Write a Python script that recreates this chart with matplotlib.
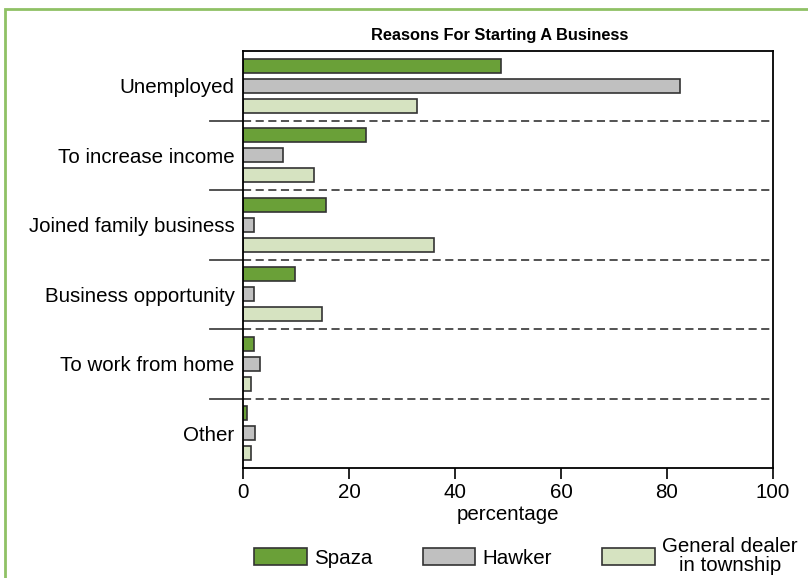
import numpy as np
import matplotlib
matplotlib.use("Agg")
import matplotlib.pyplot as plt
from matplotlib.patches import Rectangle

plt.rcParams['font.family'] = ['Liberation Sans', 'DejaVu Sans']

categories = ["Unemployed", "To increase income", "Joined family business",
              "Business opportunity", "To work from home", "Other"]
spaza = [48.6, 23.2, 15.7, 9.9, 2.1, 0.8]
hawker = [82.5, 7.6, 2.1, 2.1, 3.3, 2.3]
general = [32.8, 13.4, 36.0, 14.9, 1.6, 1.6]
series = ["Spaza", "Hawker", "General dealer\nin township"]
colors = ["#6aa038", "#c0c0c0", "#d6e3c1"]

fig = plt.figure(figsize=(8.08, 5.78), dpi=100)
ax = fig.add_axes([243/808, 1-468/578, 530/808, 417/578])

y = np.arange(len(categories))
h = 0.2
off = 0.288
for vals, c, lab, d in zip([spaza, hawker, general], colors, series, [-off, 0, off]):
    ax.barh(y + d, vals, height=h, color=c, edgecolor="#333333", linewidth=1.2, label=lab)

# group separators
for b in np.arange(len(categories) - 1) + 0.5:
    ax.axhline(b, color="#444444", linewidth=1.3, linestyle=(0, (4.5, 2.5)), zorder=0)
    ax.plot([-33/530, 0], [b, b], transform=ax.get_yaxis_transform(), color="#444444",
            linewidth=1.3, clip_on=False)

fs = 14.8
ax.set_xlim(0, 100)
ax.set_ylim(len(categories) - 0.5, -0.5)
ax.set_yticks(y)
ax.set_yticklabels(categories, fontsize=fs)
ax.tick_params(axis='y', length=0, pad=6)
ax.set_xticks([0, 20, 40, 60, 80, 100])
ax.tick_params(axis='x', labelsize=fs, length=8, width=1.2, pad=3)
ax.set_xlabel("percentage", fontsize=fs, labelpad=2)
for s in ax.spines.values():
    s.set_linewidth(1.3)
ax.set_title("Reasons For Starting A Business", fontsize=11.8, fontweight="bold", pad=8, x=0.485)

leg = fig.legend(loc="center", bbox_to_anchor=(526/808, 1-556/578), ncol=3, frameon=False,
                 fontsize=fs, handlelength=2.55, handleheight=0.95, handletextpad=0.35,
                 columnspacing=2.45, labelspacing=0.1)
for t in leg.get_texts():
    t.set_multialignment("center")
    t.set_linespacing(0.95)

# outer green frame
fig.patches.append(Rectangle((5/808, -0.05), 1.1, 1-9/578 + 0.05, transform=fig.transFigure,
                             fill=False, edgecolor="#8fc165", linewidth=2, clip_on=False))

fig.savefig("out.png", dpi=100)
